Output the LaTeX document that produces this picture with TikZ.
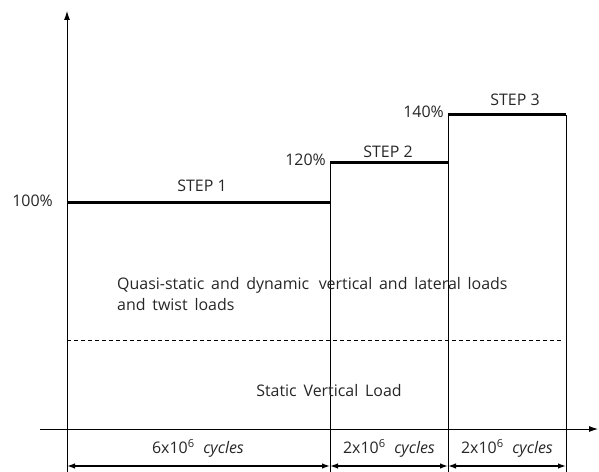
\documentclass[tikz,border=0pt]{standalone}
\usepackage{fontspec}
\setmainfont{Open Sans}
\usetikzlibrary{arrows.meta}
\newcommand{\loosewords}{\spaceskip=6.8bp plus 1bp minus 0.5bp\relax}
\begin{document}
\begin{tikzpicture}[x=1bp,y=-1bp,
  axis/.style={line width=0.9bp,-{Latex[length=9bp,width=6bp]}},
  level/.style={line width=3bp},
  guide/.style={line width=0.9bp},
  split/.style={line width=0.7bp,dash pattern=on 4bp off 3bp},
  dim/.style={line width=1.3bp,{Latex[length=8bp,width=5.5bp]}-{Latex[length=8bp,width=5.5bp]}},
  lbl/.style={font=\fontsize{16}{20}\selectfont,text=black!85,inner sep=0pt},
  note/.style={lbl,font=\fontsize{16}{21}\selectfont}]
\useasboundingbox (0,0) rectangle (599,472);
% axes
\coordinate (ybot) at (67,472);
\coordinate (ytop) at (67,11);
\coordinate (xl) at (40,429);
\coordinate (xr) at (598,429);
\draw[axis] (ybot) -- (ytop);
\draw[axis] (xl) -- (xr);
% load levels
\coordinate (a0) at (67,203);
\coordinate (a1) at (330,203);
\coordinate (b0) at (330,163);
\coordinate (b1) at (448,163);
\coordinate (c0) at (448,115);
\coordinate (c1) at (566,115);
\coordinate (d1) at (330,472);
\coordinate (d2) at (448,472);
\coordinate (d3) at (566,472);
\draw[guide] (b0) -- (d1);
\draw[guide] (c0) -- (d2);
\draw[guide] (c1) -- (d3);
\draw[level] (a0) -- (a1);
\draw[level] (b0) -- (b1);
\draw[level] (c0) -- (c1);
% static / dynamic split
\coordinate (s0) at (67,340);
\coordinate (s1) at (563,340);
\draw[split] (s0) -- (s1);
% cycle spans
\coordinate (e0) at (67,466);
\coordinate (e1) at (330,466);
\coordinate (e2) at (448,466);
\coordinate (e3) at (566,466);
\draw[dim] (e0) -- (e1);
\draw[dim] (e1) -- (e2);
\draw[dim] (e2) -- (e3);
% labels
\node[lbl,anchor=east] (p100) at (53,201) {100\%};
\node[lbl,anchor=east] (p120) at (326,160) {120\%};
\node[lbl,anchor=east] (p140) at (444,112) {140\%};
\node[lbl] (st1) at (202,186) {STEP 1};
\node[lbl] (st2) at (388,152) {STEP 2};
\node[lbl] (st3) at (515,100) {STEP 3};
\node[note,anchor=west,align=left] (dyn) at (117,294) {\loosewords Quasi-static and dynamic\, vertical and lateral loads\\\loosewords and twist loads};
\node[note] (stat) at (329,391) {\loosewords Static Vertical Load};
\node[lbl] (n1) at (198,448) {6x10\textsuperscript{6}\; \textit{cycles}};
\node[lbl] (n2) at (389,448) {2x10\textsuperscript{6}\; \textit{cycles}};
\node[lbl] (n3) at (507,448) {2x10\textsuperscript{6}\; \textit{cycles}};
\end{tikzpicture}
\end{document}
